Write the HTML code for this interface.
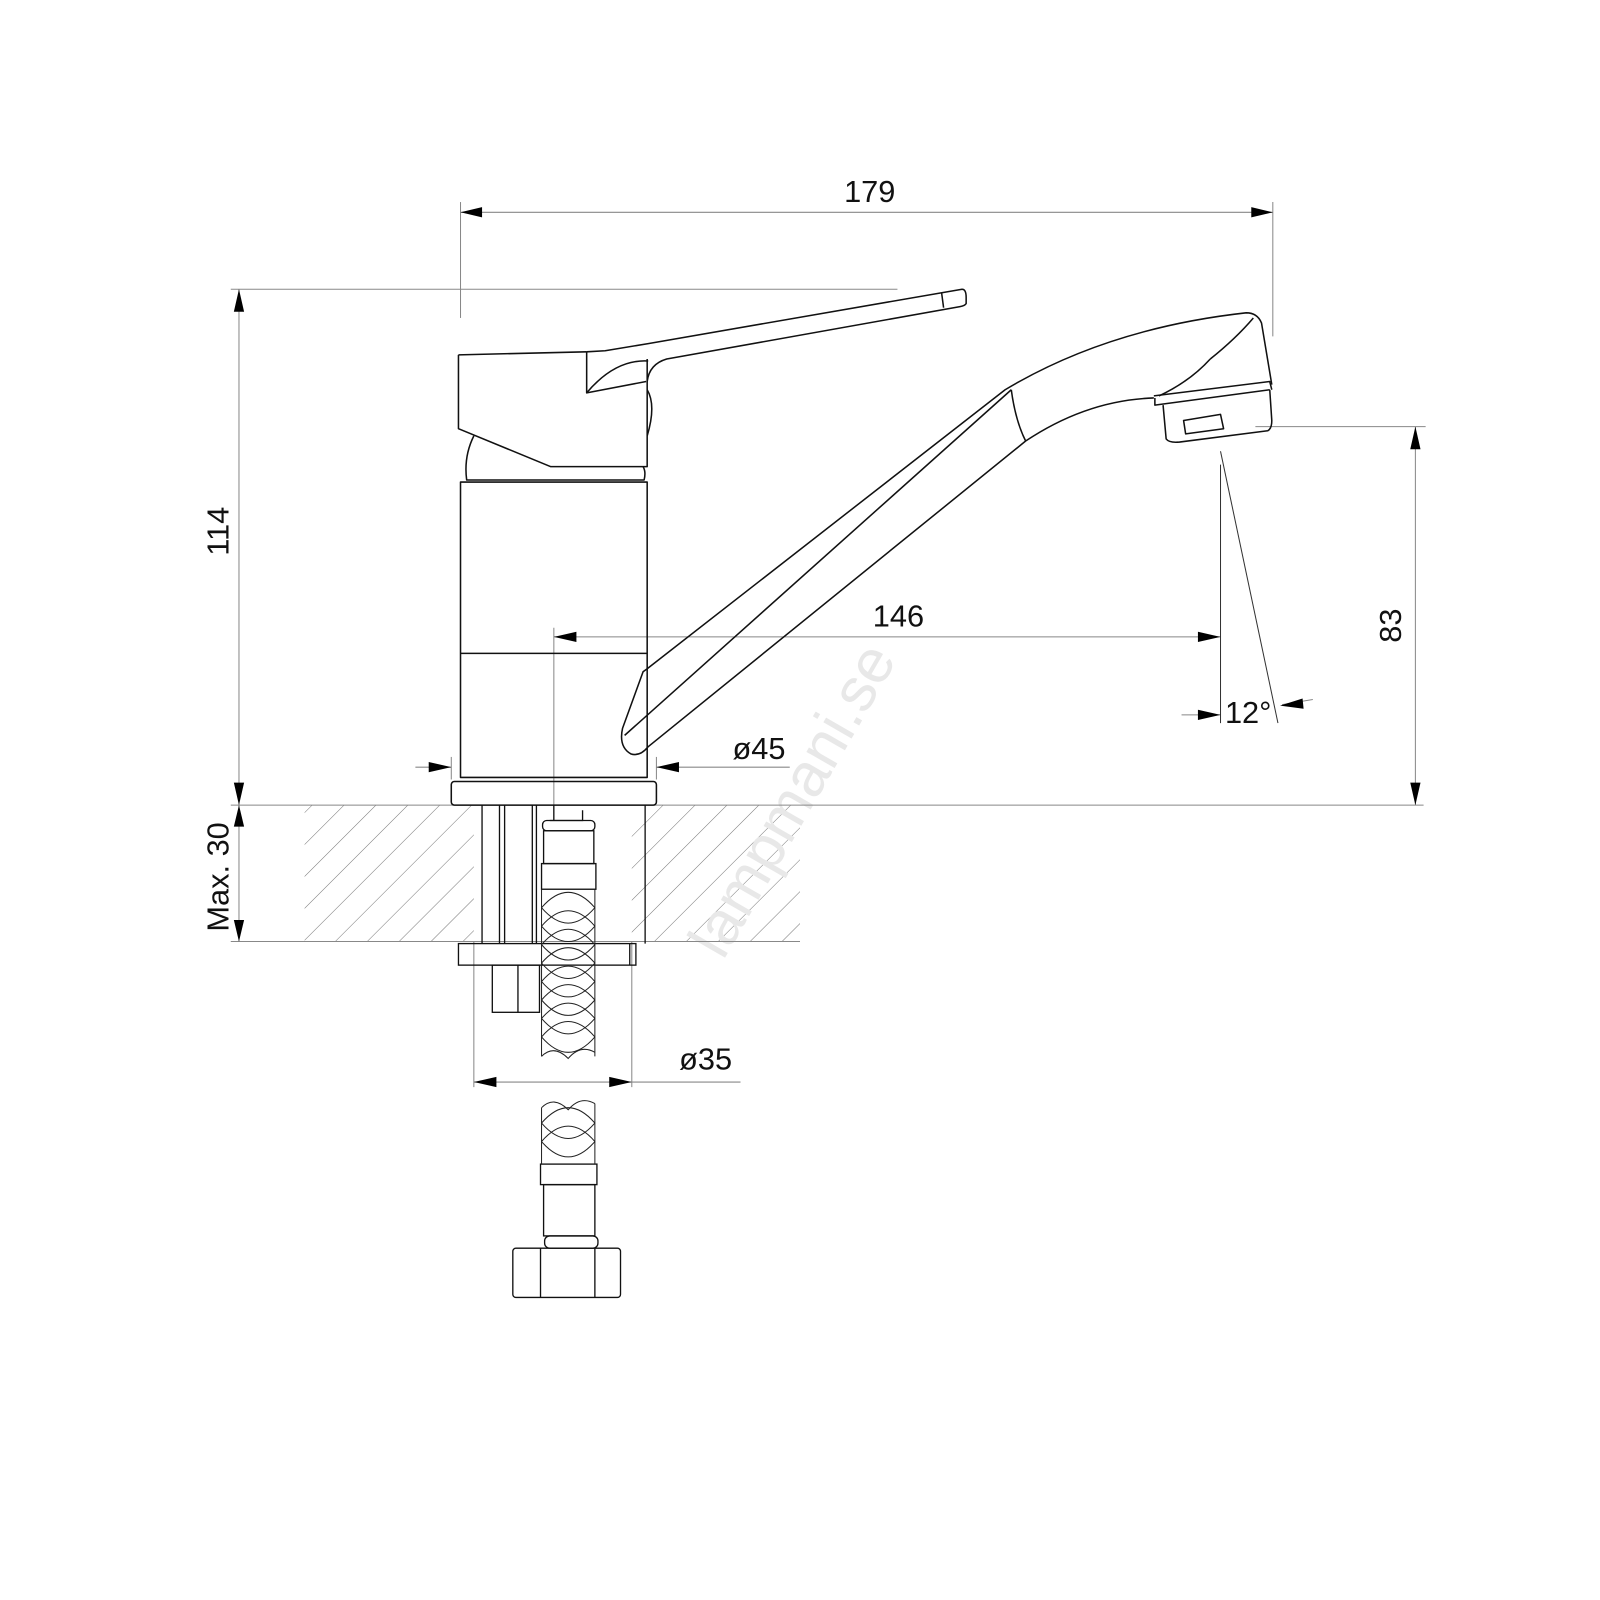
<!DOCTYPE html>
<html><head><meta charset="utf-8"><style>
html,body{margin:0;padding:0;background:#fff;}
svg{display:block}
text{font-family:"Liberation Sans",sans-serif;fill:#111}
</style></head><body>
<svg width="1600" height="1600" viewBox="0 0 1560 1560" xmlns="http://www.w3.org/2000/svg">
<defs>
<pattern id="h" patternUnits="userSpaceOnUse" width="22" height="22" patternTransform="rotate(45)">
<line x1="0" y1="0" x2="0" y2="22" stroke="#777" stroke-width="1"/>
</pattern>
</defs>
<!-- hatching -->
<rect x="297" y="785" width="165" height="133" fill="url(#h)"/>
<rect x="616" y="785" width="164" height="133" fill="url(#h)"/>
<!-- watermark -->
<text x="790" y="790" font-size="60" style="fill:#e8e8e8" transform="rotate(-60 790 790)" text-anchor="middle">lampmani.se</text>

<g stroke="#888" stroke-width="1" fill="none">
<line x1="449" y1="197" x2="449" y2="310"/>
<line x1="1241" y1="197" x2="1241" y2="328"/>
<line x1="449" y1="207" x2="1241" y2="207"/>
<line x1="225" y1="282" x2="875" y2="282"/>
<line x1="233" y1="282" x2="233" y2="918"/>
<line x1="225" y1="785" x2="1388" y2="785"/>
<line x1="225" y1="918" x2="780" y2="918"/>
<line x1="1380" y1="416" x2="1380" y2="785"/>
<line x1="1224" y1="416" x2="1390" y2="416"/>
<line x1="540" y1="612" x2="540" y2="800"/>
<line x1="540" y1="621" x2="1190" y2="621"/>
<line x1="405" y1="748" x2="440" y2="748"/>
<line x1="640" y1="748" x2="770" y2="748"/>
<line x1="440" y1="738" x2="440" y2="760"/>
<line x1="640" y1="738" x2="640" y2="760"/>
<line x1="462" y1="918" x2="462" y2="1060"/>
<line x1="616" y1="918" x2="616" y2="1060"/>
<line x1="462" y1="1055" x2="722" y2="1055"/>
<line x1="1152" y1="697" x2="1190" y2="697"/>
<line x1="1250" y1="687" x2="1280" y2="682"/>
</g>
<g stroke="#333" stroke-width="1" fill="none">
<line x1="1190" y1="453" x2="1190" y2="705"/>
<line x1="1190" y1="440" x2="1246" y2="705"/>
</g>
<!-- arrows -->
<g fill="#000">
<polygon points="449,207 470,202 470,212"/>
<polygon points="1241,207 1220,202 1220,212"/>
<polygon points="233,282 228,304 238,304"/>
<polygon points="233,785 228,763 238,763"/>
<polygon points="233,785 228,806 238,806"/>
<polygon points="233,918 228,897 238,897"/>
<polygon points="1380,416 1375,438 1385,438"/>
<polygon points="1380,785 1375,763 1385,763"/>
<polygon points="540,621 562,616 562,626"/>
<polygon points="1190,621 1168,616 1168,626"/>
<polygon points="440,748 418,743 418,753"/>
<polygon points="640,748 662,743 662,753"/>
<polygon points="462,1055 484,1050 484,1060"/>
<polygon points="616,1055 594,1050 594,1060"/>
<polygon points="1190,697 1168,692 1168,702"/>
<polygon points="1248,688 1270,681 1271,691"/>
</g>
<!-- texts -->
<text x="848" y="197" font-size="30" text-anchor="middle">179</text>
<text x="876" y="611" font-size="30" text-anchor="middle">146</text>
<text x="740" y="740" font-size="30" text-anchor="middle">ø45</text>
<text x="688" y="1043" font-size="30" text-anchor="middle">ø35</text>
<text x="1217" y="705" font-size="30" text-anchor="middle">12°</text>
<text font-size="30" text-anchor="middle" transform="translate(223,518) rotate(-90)">114</text>
<text font-size="30" text-anchor="middle" transform="translate(223,855) rotate(-90)">Max. 30</text>
<text font-size="30" text-anchor="middle" transform="translate(1366,610) rotate(-90)">83</text>

<!-- faucet -->
<g stroke="#111" stroke-width="1.5" fill="none" stroke-linejoin="round">
<path d="M447,346 L447,418 L537,455 L631,455 L631,350"/>
<path d="M447,346 L572,343"/>
<path d="M572,343 L590,342 L632,335 L938,282 Q942,282 942,290 L942,296 Q941,298 936,299 L650,350 Q633,355 631,372"/>
<path d="M572,343 L572,383 L630,372"/>
<path d="M572,383 Q600,350 632,352"/>
<path d="M918,285 L920,300"/>
<path d="M631,380 Q640,395 631,425"/>
<path d="M462,425 Q452,445 455,468 L628,468 Q630,460 627,455"/>
<rect x="449" y="470" width="182" height="288"/>
<line x1="449" y1="637" x2="631" y2="637"/>
<rect x="440" y="762" width="200" height="23" rx="3"/>
<path d="M631,652 L980,380 Q1080,320 1215,305 Q1226,305 1230,315 L1240,375"/>
<path d="M609,717 L986,380"/>
<path d="M631,652 L627,655 L607,710 Q603,728 615,735 Q624,738 632,728 L1000,430 Q1060,390 1125,388"/>
<path d="M1000,430 Q990,410 986,380"/>
<path d="M1125,386 L1238,372 L1240,380"/>
<path d="M1180,350 Q1205,330 1222,310"/>
<path d="M1180,350 Q1160,372 1130,386"/>
<path d="M1126,388 L1126,395 L1238,380"/>
<path d="M1134,395 L1137,428 Q1140,432 1150,431 L1236,420 Q1240,418 1240,410 L1238,380"/>
<path d="M1154,410 L1190,404 L1193,418 L1156,423 Z"/>
</g>
<!-- under counter -->
<g stroke="#111" stroke-width="1.3" fill="none">
<line x1="470" y1="785" x2="470" y2="920"/>
<line x1="629" y1="785" x2="629" y2="920"/>
<line x1="487" y1="785" x2="487" y2="920"/>
<line x1="492" y1="785" x2="492" y2="920"/>
<line x1="519" y1="785" x2="519" y2="920"/>
<line x1="523" y1="785" x2="523" y2="920"/>
<line x1="540" y1="785" x2="540" y2="800"/>
<path d="M536,800 L568,800 L568,790"/>
<rect x="529" y="800" width="51" height="10" rx="4"/>
<rect x="530" y="810" width="49" height="32"/>
<rect x="528" y="842" width="53" height="25"/>
<rect x="447" y="920" width="173" height="21"/>
<line x1="614" y1="920" x2="614" y2="941"/>
<rect x="480" y="941" width="46" height="46"/>
<line x1="505" y1="941" x2="505" y2="987"/>
<rect x="527" y="1135" width="55" height="20"/>
<rect x="530" y="1155" width="50" height="50"/>
<rect x="531" y="1205" width="52" height="12" rx="5"/>
<rect x="500" y="1217" width="105" height="48" rx="3"/>
<line x1="527" y1="1217" x2="527" y2="1265"/>
<line x1="580" y1="1217" x2="580" y2="1265"/>
</g>
<!-- braided hose -->
<g stroke="#222" stroke-width="1" fill="none">
<line x1="528" y1="867" x2="528" y2="1030"/>
<line x1="580" y1="867" x2="580" y2="1030"/>
<path d="M528,1030 Q540,1018 554,1032 Q566,1018 580,1026"/>
<g id="br">
<path d="M528,885 Q554,855 580,885 M528,885 Q554,915 580,885"/>
</g>
<use href="#br" y="18"/><use href="#br" y="36"/><use href="#br" y="54"/><use href="#br" y="72"/><use href="#br" y="90"/><use href="#br" y="108"/><use href="#br" y="126"/>
<line x1="528" y1="1080" x2="528" y2="1135"/>
<line x1="580" y1="1076" x2="580" y2="1135"/>
<path d="M528,1080 Q540,1068 554,1082 Q566,1068 580,1076"/>
<use href="#br" y="210"/><use href="#br" y="228"/>
</g>
</svg>
</body></html>
